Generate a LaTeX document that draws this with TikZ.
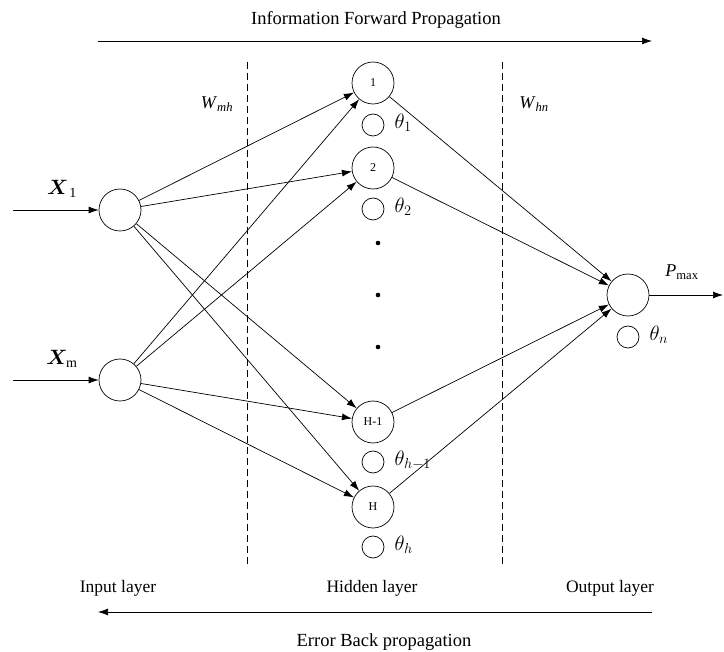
\documentclass[tikz,border=0pt]{standalone}
\usepackage{fontspec}
\setmainfont{Liberation Serif}
\usepackage{amsmath,bm}
\usetikzlibrary{arrows.meta}

\begin{document}
\begin{tikzpicture}[x=1pt,y=-1pt,
                    line width=0.7pt,>={Latex[length=10pt,width=7pt]},
                    main node/.style={circle,draw,minimum size=42pt,inner sep=0pt,font=\fontsize{12}{13}\selectfont},
                    bias node/.style={circle,draw,minimum size=22pt,inner sep=0pt},
                    layer label/.style={font=\fontsize{17.5}{19}\selectfont},
                    sym label/.style={font=\fontsize{18}{20}\selectfont},
                    theta label/.style={font=\fontsize{21}{23}\selectfont,inner sep=1pt}]
    \useasboundingbox (0,0) rectangle (724,652);

    % Define vertices
    \node[main node] (I1) at (120,210) {};
    \node[main node] (Im) at (120,380) {};
    \node[main node] (1) at (373,83) {1};
    \node[main node] (2) at (373,168) {2};
    \node[main node] (H1) at (373,422) {H-1};
    \node[main node] (H) at (373,507) {H};
    \node[main node] (O) at (628,295) {};

    % Bias circles and thresholds
    \node[bias node] (b1) at (373,125) {};
    \node[bias node] (b2) at (373,209) {};
    \node[bias node] (bH1) at (373,462) {};
    \node[bias node] (bH) at (373,547) {};
    \node[bias node] (bO) at (628,337) {};
    \node[theta label,anchor=west] (t1) at ([xshift=9pt,yshift=2pt]b1.east) {$\theta_1$};
    \node[theta label,anchor=west] (t2) at ([xshift=9pt,yshift=2pt]b2.east) {$\theta_2$};
    \node[theta label,anchor=west] (tH1) at ([xshift=9pt,yshift=2pt]bH1.east) {$\theta_{h-1}$};
    \node[theta label,anchor=west] (tH) at ([xshift=9pt,yshift=2pt]bH.east) {$\theta_h$};
    \node[theta label,anchor=west] (tO) at ([xshift=9pt,yshift=2pt]bO.east) {$\theta_n$};

    % Dots
    \foreach \y in {243,295,347}
        \fill (378,\y) circle (2.3pt);

    % Inputs and output
    \coordinate (x1) at (13,210);
    \coordinate (xm) at (13,380);
    \coordinate (p) at (723,295);
    \draw[->] (x1) -- (I1);
    \draw[->] (xm) -- (Im);
    \draw[->] (O) -- (p);
    \node[sym label,font=\fontsize{20}{22}\selectfont] (lx1) at (62,189) {$\bm{X}_{\,\mathrm{1}}$};
    \node[sym label,font=\fontsize{20}{22}\selectfont] (lxm) at (62,359) {$\bm{X}_{\mathrm{m}}$};
    \node[sym label] (lp) at (682,272) {\textit{P}\textsubscript{max}};
    \node[sym label] (lw1) at (217,104) {\textit{W}\textsubscript{\textit{mh}}};
    \node[sym label] (lw2) at (534,104) {\textit{W}\textsubscript{\textit{hn}}};

    % Connections
    \foreach \a in {I1,Im}
        \foreach \b in {1,2,H1,H}
            \draw[->] (\a) -- (\b);
    \foreach \b in {1,2,H1,H}
        \draw[->] (\b) -- (O);

    % Layer boundaries
    \coordinate (d1a) at (247,62);
    \coordinate (d1b) at (247,567);
    \coordinate (d2a) at (502,62);
    \coordinate (d2b) at (502,567);
    \draw[dash pattern=on 7pt off 4pt] (d1a) -- (d1b);
    \draw[dash pattern=on 7pt off 4pt] (d2a) -- (d2b);

    % Propagation directions
    \coordinate (fa) at (98,41);
    \coordinate (fb) at (652,41);
    \coordinate (ba) at (652,612);
    \coordinate (bb) at (98,612);
    \draw[->] (fa) -- (fb);
    \draw[->] (ba) -- (bb);
    \node[layer label,font=\fontsize{18.5}{20}\selectfont] (ft) at (376,20) {Information Forward Propagation};
    \node[layer label,font=\fontsize{18.5}{20}\selectfont] (bt) at (384,642) {Error Back propagation};
    \node[layer label] (li) at (118,588) {Input layer};
    \node[layer label] (lh) at (372,588) {Hidden layer};
    \node[layer label] (lo) at (610,588) {Output layer};

\end{tikzpicture}
\end{document}
